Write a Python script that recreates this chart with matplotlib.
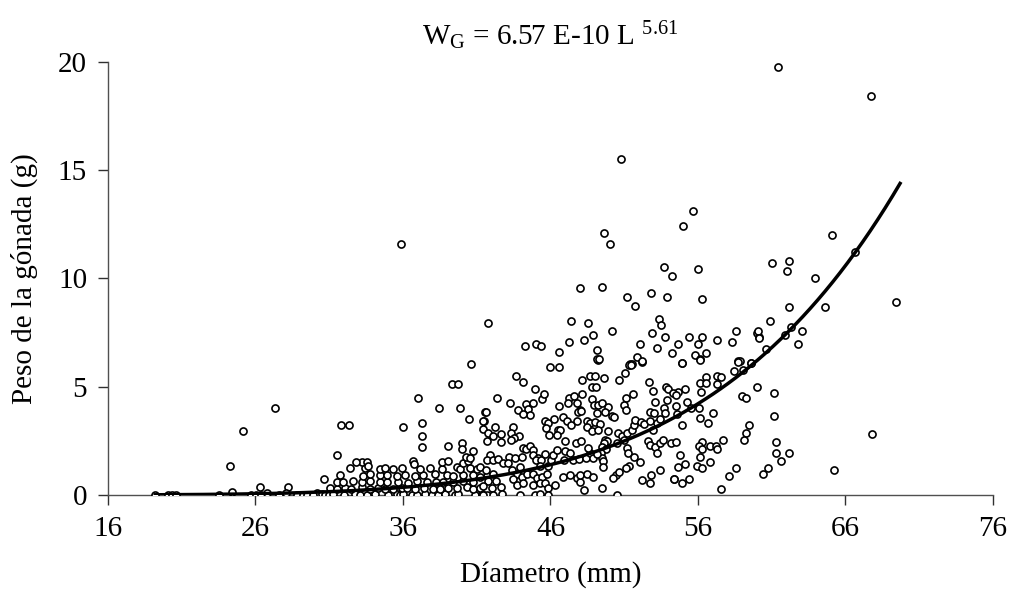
import numpy as np
import matplotlib
matplotlib.use("Agg")
import matplotlib.pyplot as plt

plt.rcParams["font.family"] = ["Liberation Serif", "DejaVu Serif"]
plt.rcParams["mathtext.fontset"] = "custom"
plt.rcParams["mathtext.rm"] = "Liberation Serif"
plt.rcParams["mathtext.it"] = "Liberation Serif:italic"

# fitted model W = a * L^b
coef_a = 6.57e-10
coef_b = 5.61
curve_range = [19.2, 69.7]

# diameter (mm) and gonad weight (g)
diam_small = [19.19, 20.09, 20.32, 20.61, 23.53, 24.41, 24.27, 25.17, 27.32, 25.69,
              26.01, 26.31, 26.35, 26.76, 27.59, 28.23, 28.07, 28.79, 29.24, 29.47, 30.15]
peso_small = [0.02, 0.02, 0.02, 0.02, 0.02, 0.13, 1.34, 2.97, 4.03, 0.02,
              0.02, 0.38, 0.02, 0.08, 0.02, 0.37, 0.10, 0.02, 0.02, 0.02, 0.08]

diam_b = [29.92, 30.49, 30.72, 31.01, 31.28, 32.03, 32.75, 33.09, 33.54, 34.10,
          35.01, 35.57, 35.80, 36.03, 36.59, 36.93, 37.50, 37.95, 38.40, 38.85,
          39.53, 39.75, 40.88, 41.34, 41.68,
          31.05, 31.55, 32.07, 32.46, 33.20, 33.77, 34.33, 34.78, 35.35, 35.91,
          36.25, 36.82, 37.43, 38.06, 38.51, 39.08, 39.64, 40.32, 40.77, 41.22,
          31.51, 31.96, 32.64, 33.20, 33.77, 34.44, 34.94, 35.69, 36.37, 36.93,
          37.61, 38.24, 38.74, 39.42, 40.09, 40.77,
          31.73, 33.31, 33.77, 34.44, 34.90, 35.57, 36.14, 36.82, 37.38, 38.17,
          38.96, 39.42, 40.09, 40.77, 41.68,
          33.43, 34.44, 34.78, 35.35, 35.91, 37.16, 37.83, 38.62, 39.64, 39.87,
          40.54, 40.99,
          33.20, 33.54, 36.70, 38.62, 39.08, 40.09, 40.43,
          30.65, 31.55, 32.82, 32.41, 33.61, 36.77, 39.08, 39.98, 39.98, 40.77,
          40.25, 40.54, 31.80, 32.32, 36.02, 37.29, 37.29, 37.29, 37.02, 38.44,
          39.84, 39.34, 39.71, 40.59, 40.47, 41.56, 41.47, 35.86, 41.74]
peso_b = [0.02, 0.03, 0.01, 0.02, 0.04, 0.02, 0.03, 0.02, 0.01, 0.03,
          0.02, 0.04, 0.02, 0.03, 0.02, 0.01, 0.03, 0.02, 0.02, 0.04,
          0.02, 0.03, 0.02, 0.03, 0.02,
          0.31, 0.28, 0.33, 0.30, 0.35, 0.29, 0.32, 0.30, 0.27, 0.34,
          0.31, 0.29, 0.33, 0.30, 0.28, 0.32, 0.31, 0.35, 0.29, 0.31,
          0.61, 0.58, 0.64, 0.60, 0.63, 0.59, 0.62, 0.61, 0.57, 0.64,
          0.60, 0.62, 0.58, 0.61, 0.65, 0.59,
          0.92, 0.89, 0.95, 0.91, 0.93, 0.88, 0.94, 0.90, 0.93, 0.96,
          0.91, 0.89, 0.94, 0.92, 0.90,
          1.23, 1.20, 1.26, 1.22, 1.25, 1.19, 1.24, 1.21, 1.27, 1.22,
          1.25, 1.20,
          1.54, 1.51, 1.56, 1.52, 1.55, 1.50, 1.57,
          0.74, 1.85, 1.54, 1.23, 1.34, 1.42, 2.28, 2.39, 2.13, 2.05,
          1.77, 1.69, 3.25, 3.25, 3.16, 3.34, 2.73, 2.20, 4.47, 4.02,
          4.02, 5.14, 5.14, 6.04, 3.51, 3.85, 3.40, 11.58, 7.93]

diam_c = [45.97, 46.60, 49.24, 51.39, 51.50, 52.23, 43.66, 44.16, 44.95, 48.11,
          48.68, 49.02, 48.84, 49.06, 49.65, 50.67, 51.07, 52.70, 52.93, 53.83,
          53.99, 42.40, 43.25, 41.63, 43.82, 44.32, 44.79, 44.45, 44.61, 44.11,
          45.45, 45.58, 46.60, 47.25, 47.62, 48.11, 47.21, 47.77, 48.00, 48.79,
          48.95, 49.24, 49.47, 49.13, 49.88, 50.15, 50.30, 49.70, 51.10, 51.00,
          51.10, 51.57, 53.08, 52.75, 53.04, 53.88, 53.70, 53.76,
          41.45, 41.45, 41.78, 42.24, 42.12, 42.64, 41.67, 42.64, 43.48, 43.30,
          43.89, 43.55, 43.30, 45.63, 45.85, 46.24, 45.67, 46.49, 46.64, 46.46,
          45.92, 46.87, 47.14, 47.41, 47.89, 48.04, 47.77, 48.50, 48.68, 49.02,
          49.36, 48.45, 48.79, 49.24, 49.88, 47.71, 48.04, 46.98,
          50.55, 50.82, 51.16, 51.50, 51.68, 51.73, 52.14, 52.36, 52.75, 52.93,
          53.20, 53.42, 52.63, 52.75, 53.08, 53.42, 53.65, 53.20,
          49.70, 49.81, 49.65, 49.47, 49.76, 49.40, 49.47, 49.58, 49.54,
          50.53, 51.00, 51.16, 51.28, 51.68, 52.07, 51.34, 51.10,
          52.18, 52.81, 53.42, 54.40, 54.62, 50.44, 50.67, 50.26, 50.53, 49.52, 52.75,
          41.90, 41.67, 42.08, 42.46, 42.80, 43.21, 43.14, 43.59, 44.04, 43.93,
          44.16, 44.34, 44.61, 44.79,
          44.84, 45.17, 45.02, 45.36, 45.63, 45.29, 45.81, 46.03, 46.19,
          46.46, 46.98, 47.32, 46.91, 47.55, 47.96, 48.41, 48.68, 48.90, 49.13, 48.52,
          41.22, 41.63, 42.12, 41.22, 41.78, 42.30, 41.45, 42.01, 42.62,
          43.37, 43.71, 43.48, 44.04, 44.38, 43.71, 44.16,
          44.84, 45.06, 45.40, 45.74, 44.84, 45.29, 45.63, 45.85,
          46.30, 46.87, 47.32, 47.77, 48.00, 48.27, 48.00, 48.45, 48.90,
          41.45, 42.12, 42.69, 43.93, 44.95, 45.29, 45.85]
peso_c = [5.93, 5.93, 6.24, 6.05, 6.05, 6.16, 5.51, 5.24, 4.88, 5.31,
          5.51, 5.51, 5.00, 5.00, 5.42, 5.31, 5.65, 5.24, 4.80, 5.00,
          4.88, 4.47, 4.23, 3.85, 3.93, 4.19, 4.24, 3.97, 3.70, 3.73,
          4.42, 4.65, 4.11, 4.47, 4.57, 4.65, 4.23, 4.23, 3.93, 4.42,
          4.16, 4.16, 4.23, 3.77, 4.08, 3.65, 3.59, 3.82, 4.47, 4.16,
          3.93, 4.65, 4.28, 3.85, 3.80, 4.39, 4.00, 3.77,
          3.42, 3.03, 2.88, 3.16, 2.73, 2.80, 2.51, 2.46, 3.16, 2.88,
          2.73, 2.62, 2.54, 3.43, 3.31, 3.51, 3.08, 3.00, 3.00, 2.77,
          2.77, 3.59, 3.42, 3.23, 3.85, 3.90, 3.43, 3.42, 3.34, 3.39,
          3.28, 3.16, 2.97, 3.00, 2.97, 2.42, 2.50, 2.48,
          2.88, 2.73, 2.88, 3.00, 3.23, 3.46, 3.39, 3.28, 3.42, 3.00,
          3.34, 3.50, 2.51, 2.31, 2.20, 2.39, 2.54, 1.93,
          2.54, 2.50, 2.39, 2.20, 2.11, 1.96, 1.69, 1.59, 1.31,
          2.39, 2.54, 2.16, 1.93, 1.77, 1.54, 1.34, 1.23,
          0.69, 0.92, 1.15, 0.72, 1.31, 0.92, 1.08, 0.77, 0.02, 0.31, 0.54,
          1.85, 1.62, 1.62, 1.65, 1.49, 1.77, 1.46, 1.69, 1.77, 1.31,
          2.16, 2.11, 2.27, 2.08,
          1.85, 1.69, 1.62, 1.62, 1.88, 1.34, 1.34, 1.62, 1.85,
          2.08, 2.05, 1.93, 1.62, 1.62, 1.65, 1.69, 1.93, 1.69, 1.89, 2.16,
          1.31, 1.15, 0.97, 0.85, 0.66, 0.66, 0.42, 0.31, 0.39,
          1.15, 0.97, 0.72, 0.85, 0.97, 0.46, 0.54,
          0.97, 0.77, 0.85, 0.97, 0.46, 0.54, 0.54, 0.31,
          0.46, 0.85, 0.92, 0.77, 0.62, 0.23, 0.92, 0.97, 0.85,
          0.02, 0.02, 0.03, 0.02, 0.02, 0.03, 0.02]

diam_up = [44.29, 45.04, 45.33, 46.60, 47.23, 47.37, 48.00,
           55.66, 55.00, 49.65, 50.03, 53.71, 54.23, 56.02, 49.51, 51.18, 51.70,
           52.83, 53.87, 56.29, 48.52, 53.35, 53.49, 50.17, 48.90, 48.24, 49.15,
           49.15, 49.28, 52.85, 53.74, 52.09, 53.22, 54.64, 55.41, 56.29, 56.02,
           57.31, 58.32, 58.57, 59.97, 60.13, 54.26, 55.77, 56.15, 56.54, 51.84,
           52.20, 51.32, 51.45, 54.91, 58.71,
           65.09, 61.02, 62.17, 62.04, 63.96, 69.43, 62.15, 64.59, 60.88, 60.10,
           60.16, 63.05, 62.78, 66.62, 62.28, 61.90, 60.61, 59.62, 58.85,
           61.40, 67.70, 50.80]
peso_up = [6.90, 6.97, 6.90, 6.62, 7.07, 8.02, 9.58,
           13.13, 12.44, 12.10, 11.59, 10.53, 10.10, 10.45, 9.59, 9.15, 8.71,
           9.31, 9.15, 9.07, 7.93, 8.11, 7.84, 7.59, 7.41, 7.16, 6.71,
           6.28, 6.28, 7.50, 7.31, 6.97, 6.81, 6.97, 7.31, 7.31, 6.97,
           7.16, 7.07, 7.59, 7.50, 7.28, 6.54, 6.45, 6.28, 6.54, 6.37,
           6.19, 6.02, 6.02, 6.11, 6.19,
           12.03, 10.72, 10.79, 10.36, 10.01, 8.90, 8.70, 8.70, 8.02, 7.58,
           7.24, 7.59, 6.97, 11.22, 7.74, 7.41, 6.73, 6.11, 6.20,
           19.75, 18.44, 15.50]

diam_e = [54.89, 56.13, 58.71, 59.59, 58.46, 59.07, 56.54, 57.31, 57.58, 56.15,
          56.54, 57.31, 55.14, 54.66, 54.32, 54.53, 56.18, 59.98, 61.13, 58.96,
          59.23, 54.50, 55.27, 55.52, 56.04, 54.55, 57.04, 56.13, 61.13, 56.67,
          54.89, 59.48, 59.23, 59.09, 54.14, 54.50, 56.24, 56.09, 56.27, 56.81,
          57.19, 57.31, 57.71, 61.26, 61.26, 62.17, 61.65, 54.78, 56.13, 55.14,
          56.81, 55.91, 56.29, 58.60, 60.74, 60.38, 58.08, 54.37, 54.89, 55.41,
          57.56, 65.22, 67.77]
peso_e = [6.08, 6.24, 6.16, 6.08, 5.74, 5.77, 5.44, 5.51, 5.44, 5.16,
          5.16, 5.13, 4.90, 4.77, 4.70, 4.62, 4.77, 4.99, 4.73, 4.57,
          4.47, 4.13, 4.28, 4.00, 4.03, 3.73, 3.77, 3.57, 3.66, 3.33,
          3.23, 3.25, 2.88, 2.54, 2.39, 2.46, 2.46, 2.28, 2.11, 2.28,
          2.28, 2.11, 2.54, 2.46, 1.94, 1.94, 1.59, 1.85, 1.77, 1.42,
          1.51, 1.34, 1.25, 1.23, 1.23, 0.97, 0.89, 0.72, 0.54, 0.72,
          0.29, 1.15, 2.82]

x_ticks = [16, 26, 36, 46, 56, 66, 76]
y_ticks = [0, 5, 10, 15, 20]

diam = np.array(diam_small + diam_b + diam_c + diam_up + diam_e)
peso = np.array(peso_small + peso_b + peso_c + peso_up + peso_e)

fig = plt.figure(figsize=(10.11, 6.09), dpi=100)
ax = fig.add_axes([0.1068, 0.1872, 0.8754, 0.711])

ax.scatter(diam, peso, s=26, facecolors="white", edgecolors="black",
           linewidths=1.2, zorder=3)

L = np.linspace(curve_range[0], curve_range[1], 200)
ax.plot(L, coef_a * L ** coef_b, color="black", lw=2.5, zorder=4)

ax.set_xlim(16, 76)
ax.set_ylim(0, 20)
ax.set_xticks(x_ticks)
ax.set_yticks(y_ticks)
ax.spines["top"].set_visible(False)
ax.spines["right"].set_visible(False)
for s in ["left", "bottom"]:
    ax.spines[s].set_color("#505050")
    ax.spines[s].set_linewidth(1.0)
ax.tick_params(direction="out", length=7, width=1, color="#303030",
               labelsize=21, pad=8)

ax.set_xlabel("Díametro (mm)", fontsize=21, labelpad=14)
ax.set_ylabel("Peso de la gónada (g)", fontsize=21, labelpad=14)
ax.set_title(r"W$_\mathrm{G}$ = 6.57 E-10 L $^{\mathrm{5.61}}$", fontsize=21, pad=12)

fig.savefig("out.png", dpi=100)
